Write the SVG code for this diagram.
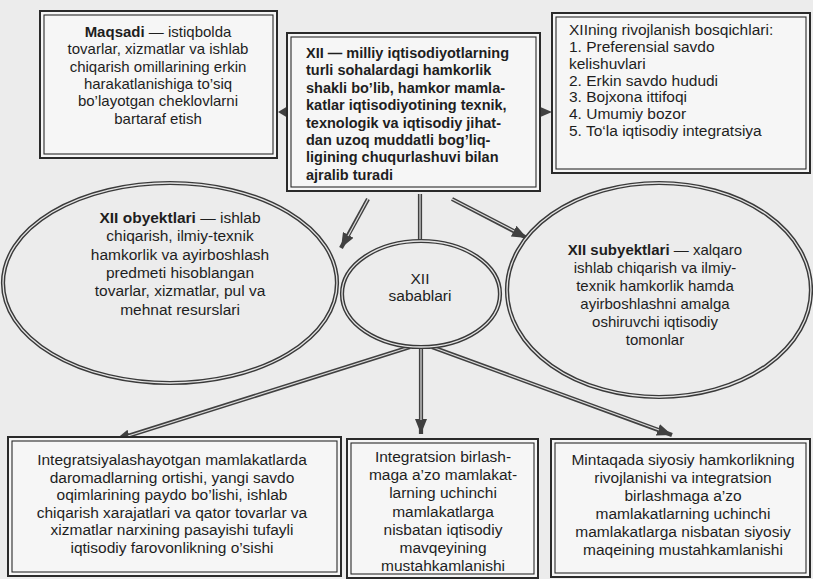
<svg xmlns="http://www.w3.org/2000/svg" width="813" height="579" viewBox="0 0 813 579">
<style>
.bg{fill:#ececec}
.bo{fill:#f6f6f6;stroke:#2a2a2a;stroke-width:2}
.bi{fill:none;stroke:#2a2a2a;stroke-width:1.1}
.eo{fill:none;stroke:#3a3a3a;stroke-width:4.2}
.ei{fill:none;stroke:#e4e4e4;stroke-width:1.3}
.co{fill:none;stroke:#404040;stroke-width:4.2}
.ci{fill:none;stroke:#dcdcdc;stroke-width:1.2}
text{font-family:"Liberation Sans",Arial,sans-serif;fill:#1e1e1e;font-size:14.5px}
.c{text-anchor:middle}
.b{font-weight:bold}
.f15{font-size:15px}
.f155{font-size:15.5px}
</style>
<defs>
<marker id="ah" markerUnits="userSpaceOnUse" markerWidth="15" markerHeight="12" refX="15" refY="6" orient="auto">
<path d="M0,0 L15,6 L0,12 z" fill="#404040"/>
</marker>
</defs>
<rect class="bg" x="0" y="0" width="813" height="579"/>

<g id="connectors">
<path class="co" d="M420,194 L420,241"/>
<path class="ci" d="M420,194 L420,241"/>
<path class="co" d="M368,199 L341,248" marker-end="url(#ah)"/>
<path class="ci" d="M368,199 L348,236"/>
<path class="co" d="M452,199 L527,238" marker-end="url(#ah)"/>
<path class="ci" d="M452,199 L514,231"/>
<path class="co" d="M421,347 L421,434" marker-end="url(#ah)"/>
<path class="ci" d="M421,347 L421,420"/>
<path class="co" d="M410,347 L115,440" marker-end="url(#ah)"/>
<path class="ci" d="M410,347 L128,436"/>
<path class="co" d="M432,347 L672,435" marker-end="url(#ah)"/>
<path class="ci" d="M432,347 L659,430"/>
<path d="M288,106 L278,112 L288,118 z" fill="#404040"/>
<path d="M538,106 L552,112 L538,118 z" fill="#404040"/>
</g>

<g id="goal">
<rect class="bo" x="40" y="11" width="237" height="147"/>
<rect class="bi" x="44" y="15" width="229" height="139"/>
<text class="c f15" x="158" y="37"><tspan class="b">Maqsadi</tspan> — istiqbolda</text>
<text class="c f15" x="158" y="54">tovarlar, xizmatlar va ishlab</text>
<text class="c f15" x="158" y="72">chiqarish omillarining erkin</text>
<text class="c f15" x="158" y="89">harakatlanishiga to’siq</text>
<text class="c f15" x="158" y="106">bo’layotgan cheklovlarni</text>
<text class="c f15" x="158" y="124">bartaraf etish</text>
</g>

<g id="definition">
<rect class="bo" x="287" y="33" width="253" height="158"/>
<rect class="bi" x="291" y="37" width="245" height="150"/>
<text class="b" x="306" y="58">XII — milliy iqtisodiyotlarning</text>
<text class="b" x="306" y="75">turli sohalardagi hamkorlik</text>
<text class="b" x="306" y="93">shakli bo’lib, hamkor mamla-</text>
<text class="b" x="306" y="110">katlar iqtisodiyotining texnik,</text>
<text class="b" x="306" y="128">texnologik va iqtisodiy jihat-</text>
<text class="b" x="306" y="145">dan uzoq muddatli bog’liq-</text>
<text class="b" x="306" y="162">ligining chuqurlashuvi bilan</text>
<text class="b" x="306" y="180">ajralib turadi</text>
</g>

<g id="stages">
<rect class="bo" x="552" y="13" width="258" height="160"/>
<rect class="bi" x="556" y="17" width="250" height="152"/>
<text class="f155" x="569" y="35">XIIning rivojlanish bosqichlari:</text>
<text class="f155" x="569" y="52">1. Preferensial savdo</text>
<text class="f155" x="569" y="69">kelishuvlari</text>
<text class="f155" x="569" y="86">2. Erkin savdo hududi</text>
<text class="f155" x="569" y="102">3. Bojxona ittifoqi</text>
<text class="f155" x="569" y="119">4. Umumiy bozor</text>
<text class="f155" x="569" y="136">5. To‘la iqtisodiy integratsiya</text>
</g>

<g id="objects">
<ellipse class="eo" cx="170" cy="283" rx="167" ry="100"/>
<ellipse class="ei" cx="170" cy="283" rx="167" ry="100"/>
<text class="c f155" x="180" y="223"><tspan class="b">XII obyektlari</tspan> — ishlab</text>
<text class="c f155" x="180" y="241">chiqarish, ilmiy-texnik</text>
<text class="c f155" x="180" y="260">hamkorlik va ayirboshlash</text>
<text class="c f155" x="180" y="278">predmeti hisoblangan</text>
<text class="c f155" x="180" y="296">tovarlar, xizmatlar,  pul va</text>
<text class="c f155" x="180" y="315">mehnat resurslari</text>
</g>

<g id="reasons">
<ellipse class="eo" cx="421" cy="294" rx="79" ry="53"/>
<ellipse class="ei" cx="421" cy="294" rx="79" ry="53"/>
<text class="c f155" x="420" y="284">XII</text>
<text class="c f155" x="420" y="301">sabablari</text>
</g>

<g id="subjects">
<ellipse class="eo" cx="659" cy="290" rx="152" ry="107"/>
<ellipse class="ei" cx="659" cy="290" rx="152" ry="107"/>
<text class="c f15" x="655" y="255"><tspan class="b">XII subyektlari</tspan> — xalqaro</text>
<text class="c f15" x="655" y="273">ishlab chiqarish va ilmiy-</text>
<text class="c f15" x="655" y="291">texnik hamkorlik hamda</text>
<text class="c f15" x="655" y="309">ayirboshlashni amalga</text>
<text class="c f15" x="655" y="327">oshiruvchi iqtisodiy</text>
<text class="c f15" x="655" y="345">tomonlar</text>
</g>

<g id="welfare">
<rect class="bo" x="8" y="437" width="333" height="139"/>
<rect class="bi" x="12" y="441" width="325" height="131"/>
<text class="c f155" x="172" y="465">Integratsiyalashayotgan mamlakatlarda</text>
<text class="c f155" x="172" y="483">daromadlarning ortishi, yangi savdo</text>
<text class="c f155" x="172" y="500">oqimlarining paydo bo’lishi, ishlab</text>
<text class="c f155" x="172" y="518">chiqarish xarajatlari va qator tovarlar va</text>
<text class="c f155" x="172" y="535">xizmatlar narxining pasayishi tufayli</text>
<text class="c f155" x="172" y="553">iqtisodiy farovonlikning o’sishi</text>
</g>

<g id="economic">
<rect class="bo" x="347" y="439" width="191" height="139"/>
<rect class="bi" x="351" y="443" width="183" height="131"/>
<text class="c f155" x="443" y="462">Integratsion birlash-</text>
<text class="c f155" x="443" y="480">maga a’zo mamlakat-</text>
<text class="c f155" x="443" y="498">larning uchinchi</text>
<text class="c f155" x="443" y="517">mamlakatlarga</text>
<text class="c f155" x="443" y="535">nisbatan iqtisodiy</text>
<text class="c f155" x="443" y="553">mavqeyining</text>
<text class="c f155" x="443" y="571">mustahkamlanishi</text>
</g>

<g id="political">
<rect class="bo" x="551" y="439" width="259" height="138"/>
<rect class="bi" x="555" y="443" width="251" height="130"/>
<text class="c f155" x="683" y="465">Mintaqada siyosiy hamkorlikning</text>
<text class="c f155" x="683" y="483">rivojlanishi va integratsion</text>
<text class="c f155" x="683" y="501">birlashmaga a’zo</text>
<text class="c f155" x="683" y="519">mamlakatlarning uchinchi</text>
<text class="c f155" x="683" y="537">mamlakatlarga nisbatan siyosiy</text>
<text class="c f155" x="683" y="555">maqeining mustahkamlanishi</text>
</g>
</svg>
